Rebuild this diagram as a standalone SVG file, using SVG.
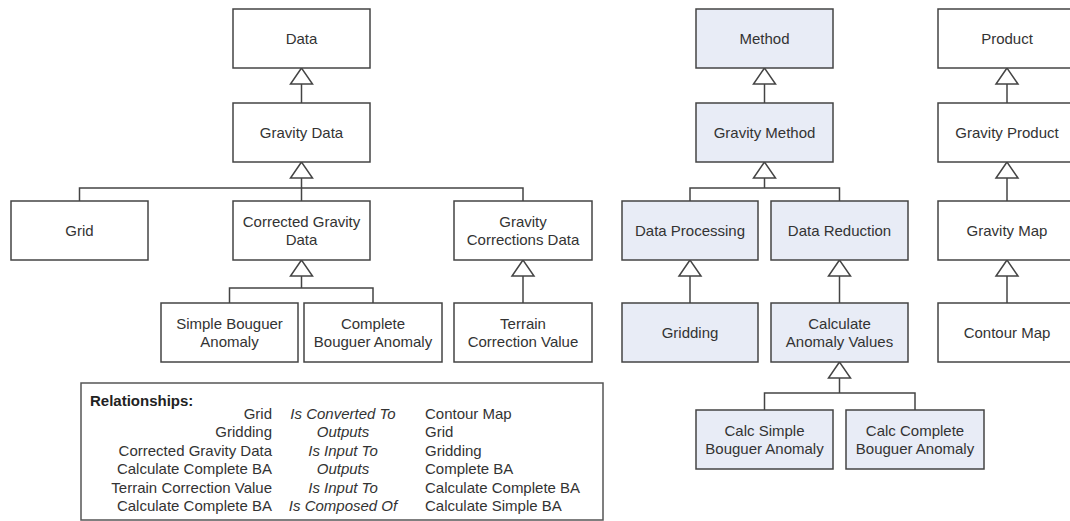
<svg xmlns="http://www.w3.org/2000/svg" width="1070" height="521" viewBox="0 0 1070 521">
<defs>
<style>
.n rect{fill:#ffffff;stroke:#444;stroke-width:1.5}
.b rect{fill:#e8ecf6}
.n text,.rel text{font-family:"Liberation Sans",Arial,sans-serif;font-size:15px;fill:#333;text-anchor:middle}
.rel text.r{text-anchor:end}
.rel text.l{text-anchor:start}
.rel text.i{font-style:italic}
.rel text.h{font-weight:bold;text-anchor:start;fill:#222}
.c path{fill:none;stroke:#444;stroke-width:1.5}
.c polygon{fill:#fff;stroke:#444;stroke-width:1.5}
</style>
</defs>
<rect width="1070" height="521" fill="#fff"/>

<g id="connectors" class="c">
<!-- Data tree -->
<path d="M301.5 84V103"/><polygon points="301.5,68 290.5,84 312.5,84"/>
<path d="M301.5 178V188M79.5 201V188H523V201M301.5 188V201"/><polygon points="301.5,162 290.5,178 312.5,178"/>
<path d="M301.5 276V288M229.5 303V288H373V303"/><polygon points="301.5,260 290.5,276 312.5,276"/>
<path d="M523 276V303"/><polygon points="523,260 512,276 534,276"/>
<!-- Method tree -->
<path d="M764.5 84V103"/><polygon points="764.5,68 753.5,84 775.5,84"/>
<path d="M764.5 178V188M690 201V188H839.5V201"/><polygon points="764.5,162 753.5,178 775.5,178"/>
<path d="M690 276V303"/><polygon points="690,260 679,276 701,276"/>
<path d="M839.5 276V303"/><polygon points="839.5,260 828.5,276 850.5,276"/>
<path d="M839.5 378V393M764.5 410V393H915V410"/><polygon points="839.5,362 828.5,378 850.5,378"/>
<!-- Product tree -->
<path d="M1007 84V103"/><polygon points="1007,68 996,84 1018,84"/>
<path d="M1007 178V201"/><polygon points="1007,162 996,178 1018,178"/>
<path d="M1007 276V303"/><polygon points="1007,260 996,276 1018,276"/>
</g>

<g id="data" class="n"><rect x="233" y="9" width="137" height="59"/><text x="301.5" y="43.5">Data</text></g>
<g id="gravity-data" class="n"><rect x="233" y="103" width="137" height="59"/><text x="301.5" y="137.5">Gravity Data</text></g>
<g id="grid" class="n"><rect x="11" y="201" width="137" height="59"/><text x="79.5" y="235.5">Grid</text></g>
<g id="corrected-gravity-data" class="n"><rect x="233" y="201" width="137" height="59"/><text x="301.5" y="226.5">Corrected Gravity</text><text x="301.5" y="244.5">Data</text></g>
<g id="gravity-corrections-data" class="n"><rect x="454" y="201" width="138" height="59"/><text x="523" y="226.5">Gravity</text><text x="523" y="244.5">Corrections Data</text></g>
<g id="simple-bouguer-anomaly" class="n"><rect x="161" y="303" width="137" height="59"/><text x="229.5" y="328.5">Simple Bouguer</text><text x="229.5" y="346.5">Anomaly</text></g>
<g id="complete-bouguer-anomaly" class="n"><rect x="304" y="303" width="138" height="59"/><text x="373" y="328.5">Complete</text><text x="373" y="346.5">Bouguer Anomaly</text></g>
<g id="terrain-correction-value" class="n"><rect x="454" y="303" width="138" height="59"/><text x="523" y="328.5">Terrain</text><text x="523" y="346.5">Correction Value</text></g>

<g id="method" class="n b"><rect x="696" y="9" width="137" height="59"/><text x="764.5" y="43.5">Method</text></g>
<g id="gravity-method" class="n b"><rect x="696" y="103" width="137" height="59"/><text x="764.5" y="137.5">Gravity Method</text></g>
<g id="data-processing" class="n b"><rect x="622" y="201" width="136" height="59"/><text x="690" y="235.5">Data Processing</text></g>
<g id="data-reduction" class="n b"><rect x="771" y="201" width="137" height="59"/><text x="839.5" y="235.5">Data Reduction</text></g>
<g id="gridding" class="n b"><rect x="622" y="303" width="136" height="59"/><text x="690" y="337.5">Gridding</text></g>
<g id="calculate-anomaly-values" class="n b"><rect x="771" y="303" width="137" height="59"/><text x="839.5" y="328.5">Calculate</text><text x="839.5" y="346.5">Anomaly Values</text></g>
<g id="calc-simple-bouguer-anomaly" class="n b"><rect x="696" y="410" width="137" height="59"/><text x="764.5" y="435.5">Calc Simple</text><text x="764.5" y="453.5">Bouguer Anomaly</text></g>
<g id="calc-complete-bouguer-anomaly" class="n b"><rect x="846" y="410" width="138" height="59"/><text x="915" y="435.5">Calc Complete</text><text x="915" y="453.5">Bouguer Anomaly</text></g>

<g id="product" class="n"><rect x="938" y="9" width="138" height="59"/><text x="1007" y="43.5">Product</text></g>
<g id="gravity-product" class="n"><rect x="938" y="103" width="138" height="59"/><text x="1007" y="137.5">Gravity Product</text></g>
<g id="gravity-map" class="n"><rect x="938" y="201" width="138" height="59"/><text x="1007" y="235.5">Gravity Map</text></g>
<g id="contour-map" class="n"><rect x="938" y="303" width="138" height="59"/><text x="1007" y="337.5">Contour Map</text></g>

<g id="relationships" class="rel">
<rect x="81" y="383" width="522" height="137" fill="#fff" stroke="#555" stroke-width="1.5"/>
<text class="h" x="90" y="406">Relationships:</text>
<text class="r" x="272" y="418.5">Grid</text><text class="i" x="343" y="418.5">Is Converted To</text><text class="l" x="425" y="418.5">Contour Map</text>
<text class="r" x="272" y="437">Gridding</text><text class="i" x="343" y="437">Outputs</text><text class="l" x="425" y="437">Grid</text>
<text class="r" x="272" y="455.5">Corrected Gravity Data</text><text class="i" x="343" y="455.5">Is Input To</text><text class="l" x="425" y="455.5">Gridding</text>
<text class="r" x="272" y="474">Calculate Complete BA</text><text class="i" x="343" y="474">Outputs</text><text class="l" x="425" y="474">Complete BA</text>
<text class="r" x="272" y="492.5">Terrain Correction Value</text><text class="i" x="343" y="492.5">Is Input To</text><text class="l" x="425" y="492.5">Calculate Complete BA</text>
<text class="r" x="272" y="511">Calculate Complete BA</text><text class="i" x="343" y="511">Is Composed Of</text><text class="l" x="425" y="511">Calculate Simple BA</text>
</g>
</svg>
